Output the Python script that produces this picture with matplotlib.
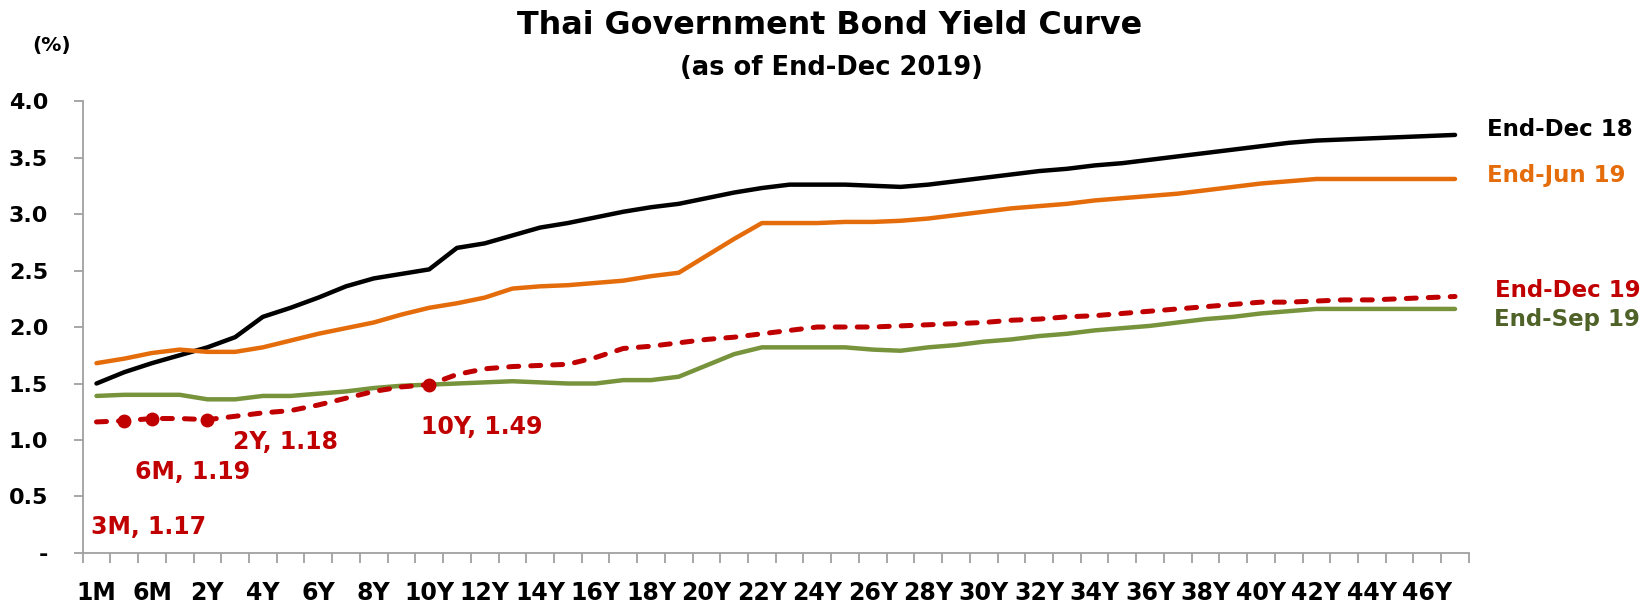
import numpy as np
import matplotlib.pyplot as plt

plt.rcParams['font.family'] = ['DejaVu Sans']
plt.rcParams['font.weight'] = 'bold'

tenors = ['1M', '3M', '6M', '1Y'] + ['%dY' % y for y in range(2, 48)]

end_dec18 = [1.50, 1.60, 1.68, 1.75, 1.82, 1.91, 2.09, 2.17, 2.26, 2.36,
             2.43, 2.47, 2.51, 2.70, 2.74, 2.81, 2.88, 2.92, 2.97, 3.02,
             3.06, 3.09, 3.14, 3.19, 3.23, 3.26, 3.26, 3.26, 3.25, 3.24,
             3.26, 3.29, 3.32, 3.35, 3.38, 3.40, 3.43, 3.45, 3.48, 3.51,
             3.54, 3.57, 3.60, 3.63, 3.65, 3.66, 3.67, 3.68, 3.69, 3.70]
end_jun19 = [1.68, 1.72, 1.77, 1.80, 1.78, 1.78, 1.82, 1.88, 1.94, 1.99,
             2.04, 2.11, 2.17, 2.21, 2.26, 2.34, 2.36, 2.37, 2.39, 2.41,
             2.45, 2.48, 2.63, 2.78, 2.92, 2.92, 2.92, 2.93, 2.93, 2.94,
             2.96, 2.99, 3.02, 3.05, 3.07, 3.09, 3.12, 3.14, 3.16, 3.18,
             3.21, 3.24, 3.27, 3.29, 3.31, 3.31, 3.31, 3.31, 3.31, 3.31]
end_sep19 = [1.39, 1.40, 1.40, 1.40, 1.36, 1.36, 1.39, 1.39, 1.41, 1.43,
             1.46, 1.48, 1.49, 1.50, 1.51, 1.52, 1.51, 1.50, 1.50, 1.53,
             1.53, 1.56, 1.66, 1.76, 1.82, 1.82, 1.82, 1.82, 1.80, 1.79,
             1.82, 1.84, 1.87, 1.89, 1.92, 1.94, 1.97, 1.99, 2.01, 2.04,
             2.07, 2.09, 2.12, 2.14, 2.16, 2.16, 2.16, 2.16, 2.16, 2.16]
end_dec19 = [1.16, 1.17, 1.19, 1.19, 1.18, 1.21, 1.24, 1.26, 1.31, 1.37,
             1.43, 1.47, 1.49, 1.58, 1.63, 1.65, 1.66, 1.67, 1.73, 1.81,
             1.83, 1.86, 1.89, 1.91, 1.94, 1.97, 2.00, 2.00, 2.00, 2.01,
             2.02, 2.03, 2.04, 2.06, 2.07, 2.09, 2.10, 2.12, 2.14, 2.16,
             2.18, 2.20, 2.22, 2.22, 2.23, 2.24, 2.24, 2.25, 2.26, 2.27]

marked = [1, 2, 4, 12]
marked_labels = ['3M, 1.17', '6M, 1.19', '2Y, 1.18', '10Y, 1.49']
# label offset from its point (categories, percent)
label_offsets = [(-1.21, 0.94), (-0.61, 0.47), (0.92, 0.20), (-0.30, 0.375)]

black = '#000000'
orange = '#E46C0A'
green = '#77933C'
red = '#C00000'
axis_grey = '#A0A0A0'

fig = plt.figure(figsize=(16.46, 6.02), dpi=100)
ax = fig.add_axes([0.0502, 0.0814, 0.8422, 0.7508])

x = np.arange(len(tenors))
ax.plot(x, end_dec18, color=black, lw=3.2, solid_capstyle='round')
ax.plot(x, end_jun19, color=orange, lw=3.2, solid_capstyle='round')
ax.plot(x, end_sep19, color=green, lw=3.2, solid_capstyle='round')
ax.plot(x, end_dec19, color=red, lw=3.6, linestyle=(0, (2.0, 2.4)),
        dash_capstyle='round')
ax.plot(x[marked], np.array(end_dec19)[marked], 'o', color=red, ms=9)

for i, lab, (dx, dy) in zip(marked, marked_labels, label_offsets):
    ax.text(i + dx, end_dec19[i] - dy, lab, color=red, fontsize=17,
            ha='left', va='center')

# series names at the right end
ax.text(50.15, 3.75, 'End-Dec 18', color=black, fontsize=16.5, va='center', clip_on=False)
ax.text(50.15, 3.34, 'End-Jun 19', color=orange, fontsize=16.5, va='center', clip_on=False)
ax.text(50.45, 2.32, 'End-Dec 19', color=red, fontsize=16.5, va='center', clip_on=False)
ax.text(50.4, 2.07, 'End-Sep 19', color='#4F6228', fontsize=16.5, va='center', clip_on=False)

ax.set_xlim(-0.5, len(tenors) - 0.5)
ax.set_ylim(0, 4.0)
ax.set_xticks(x[::2])
ax.set_xticklabels(tenors[::2])
ax.set_xticks(np.arange(-0.5, len(tenors), 1), minor=True)
ax.tick_params(axis='x', which='major', length=0, pad=20, labelsize=17)
ax.tick_params(axis='x', which='minor', length=7, width=1.3, color=axis_grey, direction='out')

yt = np.arange(0, 4.01, 0.5)
ax.set_yticks(yt)
ax.set_yticklabels(['-'] + ['%.1f' % v for v in yt[1:]])
ax.tick_params(axis='y', length=6.8, width=1.3, color=axis_grey, pad=18, labelsize=16)

for s in ['top', 'right']:
    ax.spines[s].set_visible(False)
for s in ['left', 'bottom']:
    ax.spines[s].set_color(axis_grey)
    ax.spines[s].set_linewidth(1.3)

fig.text(0.504, 1 - 26 / 602, 'Thai Government Bond Yield Curve', ha='center', va='center', fontsize=22.9)
fig.text(0.505, 1 - 68 / 602, '(as of End-Dec 2019)', ha='center', va='center', fontsize=18.5)
fig.text(52 / 1646, 1 - 45 / 602, '(%)', ha='center', va='center', fontsize=14.5)

fig.savefig('out.png', dpi=100)
